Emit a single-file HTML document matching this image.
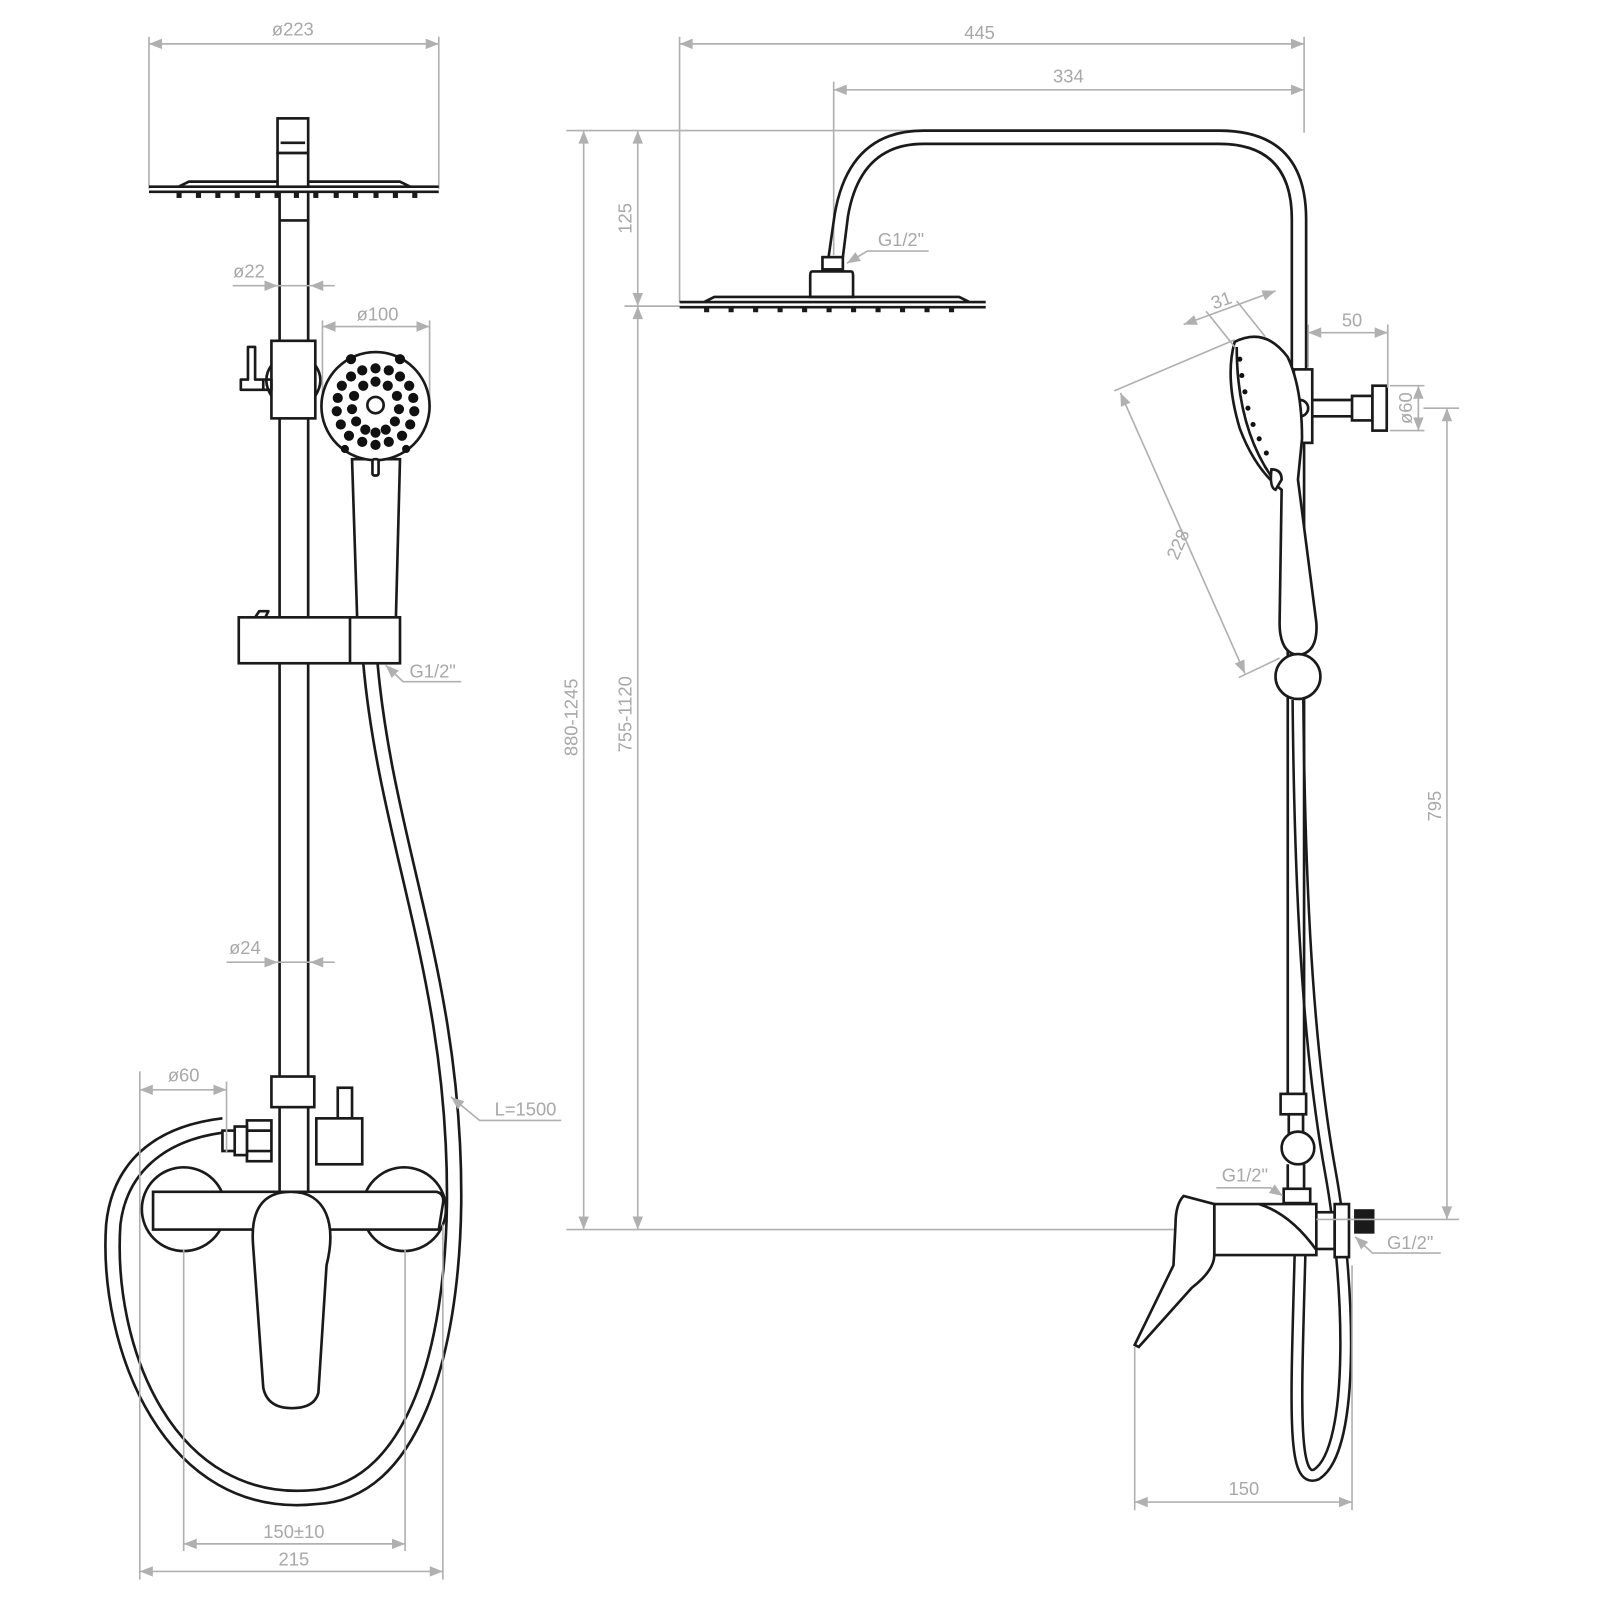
<!DOCTYPE html>
<html><head><meta charset="utf-8"><style>
html,body{margin:0;padding:0;background:#fff}
svg{display:block}
.k{fill:none;stroke:#1a1a1a;stroke-width:2.6;stroke-linejoin:round}
.kf{fill:#fff;stroke:#1a1a1a;stroke-width:2.6}
.d{fill:none;stroke:#b0b0b0;stroke-width:1.6}
.t{font-family:"Liberation Sans",sans-serif;font-size:18px;fill:#a8a8a8}
</style></head><body>
<svg width="1600" height="1600" viewBox="0 0 1568 1568" xmlns="http://www.w3.org/2000/svg">
<defs>
<marker id="a" viewBox="0 0 10 10" refX="10" refY="5" markerWidth="10" markerHeight="8" orient="auto-start-reverse"><path d="M0,1 L10,5 L0,9 z" fill="#b0b0b0"/></marker>
</defs>

<!-- ===== LEFT VIEW ===== -->
<line class="d" x1="146" y1="43" x2="430" y2="43" marker-start="url(#a)" marker-end="url(#a)"/>
<line class="d" x1="146" y1="36" x2="146" y2="185"/><line class="d" x1="430" y1="36" x2="430" y2="185"/>
<text class="t" x="287" y="35" text-anchor="middle">ø223</text>
<rect class="kf" x="272" y="116" width="30" height="34"/>
<line class="k" x1="275" y1="140" x2="299" y2="140"/>
<path class="k" d="M146 183 H430 M146 188 H430 M175 183 L185 178 H392 L402 183"/>
<g fill="#1a1a1a"><rect x="173" y="188" width="5" height="6"/><rect x="192" y="188" width="5" height="6"/><rect x="211" y="188" width="5" height="6"/><rect x="230" y="188" width="5" height="6"/><rect x="250" y="188" width="5" height="6"/><rect x="269" y="188" width="5" height="6"/><rect x="288" y="188" width="5" height="6"/><rect x="307" y="188" width="5" height="6"/><rect x="327" y="188" width="5" height="6"/><rect x="346" y="188" width="5" height="6"/><rect x="366" y="188" width="5" height="6"/><rect x="385" y="188" width="5" height="6"/><rect x="404" y="188" width="5" height="6"/></g>
<rect class="kf" x="272" y="150" width="30" height="33"/>
<path class="k" d="M274 188 V1055 M302 188 V1055"/>
<line class="k" x1="274" y1="216" x2="302" y2="216"/>
<line class="d" x1="228" y1="280" x2="272" y2="280" marker-end="url(#a)"/>
<line class="d" x1="328" y1="280" x2="304" y2="280" marker-end="url(#a)"/>
<line class="d" x1="272" y1="280" x2="304" y2="280"/>
<text class="t" x="244" y="272" text-anchor="middle">ø22</text>
<rect class="kf" x="266" y="334" width="43" height="76"/>
<path class="k" d="M266 358 Q256 372 266 388 M309 358 Q319 372 309 388"/>
<path class="k" d="M243 340 H250 V372 H266 V382 H236 V372 H243 Z"/>
<line class="k" x1="258" y1="372" x2="258" y2="382"/>
<line class="d" x1="316" y1="320" x2="421" y2="320" marker-start="url(#a)" marker-end="url(#a)"/>
<line class="d" x1="316" y1="314" x2="316" y2="400"/><line class="d" x1="421" y1="314" x2="421" y2="400"/>
<text class="t" x="370" y="314" text-anchor="middle">ø100</text>
<path class="kf" d="M345 450 L392 450 L388 605 L350 605 Z"/>
<circle class="kf" cx="368" cy="398" r="53"/>
<circle class="k" cx="368" cy="397" r="8"/>
<g fill="#111">
<circle cx="368" cy="361" r="5"/><circle cx="355" cy="363" r="5"/><circle cx="381" cy="363" r="5"/><circle cx="344" cy="369" r="5"/><circle cx="392" cy="369" r="5"/><circle cx="335" cy="378" r="5"/><circle cx="401" cy="378" r="5"/><circle cx="331" cy="390" r="5"/><circle cx="405" cy="390" r="5"/><circle cx="330" cy="403" r="5"/><circle cx="406" cy="403" r="5"/><circle cx="334" cy="416" r="5"/><circle cx="402" cy="416" r="5"/><circle cx="342" cy="427" r="5"/><circle cx="394" cy="427" r="5"/><circle cx="355" cy="433" r="5"/><circle cx="381" cy="433" r="5"/><circle cx="368" cy="436" r="5"/>
<circle cx="368" cy="374" r="5"/><circle cx="356" cy="378" r="5"/><circle cx="380" cy="378" r="5"/><circle cx="347" cy="388" r="5"/><circle cx="389" cy="388" r="5"/><circle cx="345" cy="401" r="5"/><circle cx="391" cy="401" r="5"/><circle cx="349" cy="413" r="5"/><circle cx="387" cy="413" r="5"/><circle cx="358" cy="421" r="5"/><circle cx="378" cy="421" r="5"/><circle cx="368" cy="424" r="5"/>
<circle cx="344" cy="352" r="5"/><circle cx="392" cy="352" r="5"/><circle cx="338" cy="440" r="4"/><circle cx="398" cy="440" r="4"/>
</g>
<rect class="kf" x="365" y="450" width="6" height="16" rx="2"/>
<rect class="kf" x="234" y="605" width="158" height="45"/>
<line class="k" x1="343" y1="605" x2="343" y2="650"/>
<path class="k" d="M250 605 L254 599 H263 L260 605"/>
<path class="d" d="M378 652 L395 668 H452" marker-start="url(#a)"/>
<text class="t" x="424" y="664" text-anchor="middle">G1/2"</text>
<path class="k" d="M356 650 C372 830 440 960 438 1180 C436 1320 400 1450 310 1460 C170 1475 110 1320 118 1200 C124 1150 160 1118 218 1110"/>
<path class="k" d="M370 650 C386 830 454 960 452 1180 C450 1330 410 1470 310 1474 C160 1490 96 1320 104 1200 C110 1140 150 1104 218 1096"/>
<line class="d" x1="222" y1="943" x2="272" y2="943" marker-end="url(#a)"/>
<line class="d" x1="328" y1="943" x2="304" y2="943" marker-end="url(#a)"/>
<line class="d" x1="272" y1="943" x2="304" y2="943"/>
<text class="t" x="240" y="935" text-anchor="middle">ø24</text>
<path class="d" d="M442 1075 L470 1098 H550" marker-start="url(#a)"/>
<text class="t" x="515" y="1093" text-anchor="middle">L=1500</text>
<rect class="kf" x="266" y="1055" width="42" height="30"/>
<path class="k" d="M274 1085 V1168 M302 1085 V1168"/>
<rect class="kf" x="331" y="1066" width="14" height="30"/>
<rect class="kf" x="310" y="1096" width="45" height="45"/>
<rect class="kf" x="242" y="1098" width="24" height="40"/>
<rect class="kf" x="230" y="1104" width="12" height="28"/>
<rect class="kf" x="218" y="1108" width="12" height="20"/>
<line class="k" x1="242" y1="1108" x2="266" y2="1108"/><line class="k" x1="242" y1="1128" x2="266" y2="1128"/>
<circle class="kf" cx="180" cy="1185" r="41"/>
<circle class="kf" cx="396" cy="1185" r="41"/>
<path class="kf" d="M150 1168 H428 Q436 1170 434 1180 L430 1205 H150 Z"/>
<path class="kf" d="M285 1168 C320 1168 330 1200 320 1240 L312 1365 Q308 1380 286 1380 Q262 1380 258 1360 L248 1220 Q244 1168 285 1168 Z"/>
<line class="d" x1="137" y1="1068" x2="222" y2="1068" marker-start="url(#a)" marker-end="url(#a)"/>
<line class="d" x1="137" y1="1050" x2="137" y2="1548"/><line class="d" x1="222" y1="1060" x2="222" y2="1130"/>
<text class="t" x="180" y="1060" text-anchor="middle">ø60</text>
<line class="d" x1="180" y1="1225" x2="180" y2="1520"/><line class="d" x1="397" y1="1225" x2="397" y2="1520"/><line class="d" x1="434" y1="1200" x2="434" y2="1548"/>
<line class="d" x1="180" y1="1513" x2="397" y2="1513" marker-start="url(#a)" marker-end="url(#a)"/>
<text class="t" x="288" y="1507" text-anchor="middle">150±10</text>
<line class="d" x1="137" y1="1540" x2="434" y2="1540" marker-start="url(#a)" marker-end="url(#a)"/>
<text class="t" x="288" y="1534" text-anchor="middle">215</text>

<!-- ===== RIGHT VIEW ===== -->
<line class="d" x1="666" y1="43" x2="1278" y2="43" marker-start="url(#a)" marker-end="url(#a)"/>
<text class="t" x="960" y="38" text-anchor="middle">445</text>
<line class="d" x1="817" y1="88" x2="1278" y2="88" marker-start="url(#a)" marker-end="url(#a)"/>
<text class="t" x="1047" y="81" text-anchor="middle">334</text>
<line class="d" x1="666" y1="36" x2="666" y2="296"/><line class="d" x1="817" y1="80" x2="817" y2="250"/><line class="d" x1="1278" y1="36" x2="1278" y2="130"/>
<line class="d" x1="555" y1="128" x2="900" y2="128"/>
<line class="d" x1="555" y1="1205" x2="1190" y2="1205"/>
<line class="d" x1="612" y1="300" x2="666" y2="300"/>
<line class="d" x1="572" y1="128" x2="572" y2="1205" marker-start="url(#a)" marker-end="url(#a)"/>
<text class="t" transform="translate(566 703) rotate(-90)" text-anchor="middle">880-1245</text>
<line class="d" x1="625" y1="128" x2="625" y2="300" marker-start="url(#a)" marker-end="url(#a)"/>
<text class="t" transform="translate(619 214) rotate(-90)" text-anchor="middle">125</text>
<line class="d" x1="625" y1="300" x2="625" y2="1205" marker-start="url(#a)" marker-end="url(#a)"/>
<text class="t" transform="translate(619 700) rotate(-90)" text-anchor="middle">755-1120</text>
<path class="k" d="M812 252 L818 210 Q832 128 905 128 H1195 Q1280 128 1280 215 V362"/>
<path class="k" d="M826 252 L831 212 Q843 141 905 141 H1195 Q1266 141 1266 215 V362"/>
<rect class="kf" x="806" y="252" width="20" height="12"/>
<path class="kf" d="M796 266 H834 Q836 266 836 270 V291 H794 V270 Q794 266 796 266 Z"/>
<path class="k" d="M666 296 H966 M666 301 H966 M690 296 L700 291 H940 L950 296"/>
<g fill="#1a1a1a"><rect x="690" y="301" width="5" height="5"/><rect x="714" y="301" width="5" height="5"/><rect x="738" y="301" width="5" height="5"/><rect x="762" y="301" width="5" height="5"/><rect x="786" y="301" width="5" height="5"/><rect x="810" y="301" width="5" height="5"/><rect x="834" y="301" width="5" height="5"/><rect x="858" y="301" width="5" height="5"/><rect x="882" y="301" width="5" height="5"/><rect x="906" y="301" width="5" height="5"/><rect x="930" y="301" width="5" height="5"/></g>
<path class="d" d="M830 258 L850 246 H910" marker-start="url(#a)"/>
<text class="t" x="883" y="241" text-anchor="middle">G1/2"</text>
<!-- hose right (double line) -->
<path d="M1272 686 C1274 900 1284 1040 1304 1150 C1322 1250 1330 1420 1290 1445 C1266 1455 1270 1380 1274 1230" fill="none" stroke="#1a1a1a" stroke-width="13"/>
<path d="M1272 686 C1274 900 1284 1040 1304 1150 C1322 1250 1330 1420 1290 1445 C1266 1455 1270 1380 1274 1230" fill="none" stroke="#fff" stroke-width="8"/>
<path class="k" d="M1262 362 V1080 M1278 362 V1080"/>
<rect class="kf" x="1268" y="362" width="18" height="72"/>
<circle class="kf" cx="1274" cy="400" r="8"/>
<path class="k" d="M1286 392 H1325 M1286 408 H1325"/>
<rect class="kf" x="1325" y="388" width="20" height="24"/>
<rect class="kf" x="1345" y="378" width="14" height="44"/>
<path class="kf" d="M1210 335 Q1240 320 1262 350 Q1276 380 1276 430 L1272 470 L1290 610 Q1292 640 1272 642 Q1254 640 1254 610 L1256 480 Q1230 460 1215 420 Q1200 370 1210 335 Z"/>
<path class="k" d="M1212 340 Q1212 420 1248 470"/>
<path class="kf" d="M1246 460 Q1256 460 1256 470 L1250 480 Q1244 478 1246 460 Z"/>
<g fill="#111"><circle cx="1215" cy="352" r="2.5"/><circle cx="1217" cy="368" r="2.5"/><circle cx="1220" cy="384" r="2.5"/><circle cx="1223" cy="400" r="2.5"/><circle cx="1228" cy="416" r="2.5"/><circle cx="1234" cy="430" r="2.5"/><circle cx="1241" cy="444" r="2.5"/></g>
<circle class="kf" cx="1272" cy="663" r="22"/>
<rect class="kf" x="1255" y="1072" width="25" height="20"/>
<rect class="kf" x="1263" y="1092" width="14" height="20"/>
<circle class="kf" cx="1272" cy="1125" r="16"/>
<path class="k" d="M1262 1141 V1165 M1278 1141 V1165"/>
<rect class="kf" x="1258" y="1165" width="26" height="14"/>
<path class="kf" d="M1190 1180 H1290 V1230 H1190 Z"/>
<path class="k" d="M1234 1180 Q1265 1190 1290 1225"/>
<rect class="kf" x="1290" y="1188" width="18" height="36"/>
<rect class="kf" x="1308" y="1180" width="14" height="52"/>
<rect x="1327" y="1185" width="20" height="24" fill="#1a1a1a"/>
<path class="kf" d="M1190 1180 L1160 1172 Q1152 1180 1152 1200 L1150 1240 L1112 1318 L1116 1320 L1168 1262 Q1190 1245 1190 1230 Z"/>
<path class="d" d="M1257 1172 L1245 1164 H1192" marker-start="url(#a)"/>
<text class="t" x="1220" y="1158" text-anchor="middle">G1/2"</text>
<path class="d" d="M1328 1212 L1345 1228 H1412" marker-start="url(#a)"/>
<text class="t" x="1382" y="1224" text-anchor="middle">G1/2"</text>
<line class="d" x1="1112" y1="1320" x2="1112" y2="1480"/><line class="d" x1="1325" y1="1240" x2="1325" y2="1480"/>
<line class="d" x1="1112" y1="1472" x2="1325" y2="1472" marker-start="url(#a)" marker-end="url(#a)"/>
<text class="t" x="1219" y="1465" text-anchor="middle">150</text>
<line class="d" x1="1395" y1="400" x2="1430" y2="400"/><line class="d" x1="1290" y1="1195" x2="1430" y2="1195"/>
<line class="d" x1="1418" y1="400" x2="1418" y2="1195" marker-start="url(#a)" marker-end="url(#a)"/>
<text class="t" transform="translate(1412 790) rotate(-90)" text-anchor="middle">795</text>
<line class="d" x1="1362" y1="378" x2="1396" y2="378"/><line class="d" x1="1362" y1="422" x2="1396" y2="422"/>
<line class="d" x1="1390" y1="378" x2="1390" y2="422" marker-start="url(#a)" marker-end="url(#a)"/>
<text class="t" transform="translate(1384 400) rotate(-90)" text-anchor="middle">ø60</text>
<line class="d" x1="1282" y1="326" x2="1360" y2="326" marker-start="url(#a)" marker-end="url(#a)"/>
<line class="d" x1="1360" y1="318" x2="1360" y2="380"/>
<line class="d" x1="1282" y1="318" x2="1282" y2="360"/>
<text class="t" x="1325" y="320" text-anchor="middle">50</text>
<line class="d" x1="1098" y1="385" x2="1220" y2="660" marker-start="url(#a)" marker-end="url(#a)"/>
<line class="d" x1="1092" y1="383" x2="1210" y2="333"/>
<line class="d" x1="1214" y1="664" x2="1254" y2="645"/>
<text class="t" transform="translate(1160 536) rotate(-66)" text-anchor="middle">228</text>
<line class="d" x1="1160" y1="318" x2="1250" y2="285" marker-start="url(#a)" marker-end="url(#a)"/>
<line class="d" x1="1182" y1="305" x2="1210" y2="340"/><line class="d" x1="1212" y1="295" x2="1240" y2="330"/>
<text class="t" transform="translate(1199 300) rotate(-20)" text-anchor="middle">31</text>
</svg>
</body></html>
